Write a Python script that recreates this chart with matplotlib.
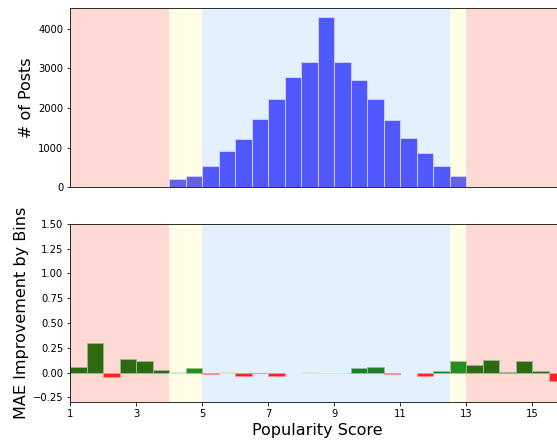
import numpy as np
import matplotlib.pyplot as plt
from matplotlib.colors import to_rgb

# bins of 0.5 on the popularity score
bin_edges = np.arange(1, 16.01, 0.5)
bin_left = bin_edges[:-1]

# posts per bin (bins 1.0 .. 15.5)
post_counts = [0, 0, 0, 0, 0, 0,
               209, 292, 536, 921, 1223, 1718, 2221, 2783, 3145, 4302,
               3145, 2707, 2214, 1693, 1240, 870, 536, 292,
               0, 0, 0, 0, 0, 0]

# MAE improvement per bin
mae_improvement = [0.054, 0.296, -0.044, 0.141, 0.118, 0.024,
                   0.007, 0.044, -0.010, 0.005, -0.034, -0.008, -0.034, 0.0,
                   0.005, -0.006, -0.006, 0.044, 0.057, -0.010, 0.0, -0.030,
                   0.020, 0.114, 0.077, 0.124, 0.010, 0.114, 0.017, -0.088]

# region shading: (start, end, colour)
regions = [(1, 4, '#ffdad5'), (4, 5, '#fffde6'), (5, 12.5, '#e3f0fd'),
           (12.5, 13, '#fffde6'), (13, 16, '#ffdad5')]

dark_green = '#2d6a12'
mid_green = '#1d7f2a'
bright_green = '#2a8c1f'
light_green = '#a8d4a8'
red = '#ff2222'
light_red = '#f2a3ab'
bar_colors = [dark_green, dark_green, red, dark_green, dark_green, dark_green,
              light_green, bright_green, red, light_green, red, red, red, red,
              light_green, light_red, light_red, mid_green, mid_green, red, red, red,
              mid_green, bright_green, dark_green, dark_green, dark_green, dark_green,
              dark_green, red]
# lighter outline: halfway between the fill and white
edge_colors = []
for c, v in zip(bar_colors, mae_improvement):
    r, g, b = to_rgb(c)
    if v == 0:
        edge_colors.append((0, 0, 0, 0))
    else:
        edge_colors.append(((r + 1) / 2, (g + 1) / 2, (b + 1) / 2, 1))

top_colors = ['#5058ff'] * 30
for i in (6, 7, 23):
    top_colors[i] = '#6462e0'

# the original was rendered at 72 dpi
fig = plt.figure(figsize=(557 / 72, 441 / 72), dpi=72)
W, H = 557, 441
ax1 = fig.add_axes([70.3 / W, 1 - 187.3 / H, (565.3 - 70.3) / W, (187.3 - 8.3) / H])
ax2 = fig.add_axes([70.3 / W, 1 - 402.3 / H, (565.3 - 70.3) / W, (402.3 - 223.7) / H])

for ax in (ax1, ax2):
    for a, b, c in regions:
        ax.axvspan(a, b, color=c, lw=0, zorder=0)
    ax.set_xlim(1, 16)

ax1.bar(bin_left, post_counts, width=0.5, align='edge', color=top_colors,
        edgecolor='#c8ccff', linewidth=1, zorder=2)
ax1.set_ylim(0, 4510)
ax1.set_yticks([0, 1000, 2000, 3000, 4000])
ax1.set_xticks([])
ax1.set_ylabel('# of Posts', fontsize=16)

ax2.bar(bin_left, mae_improvement, width=0.5, align='edge', color=bar_colors,
        edgecolor=edge_colors, linewidth=1, zorder=2)
ax2.set_ylim(-0.3, 1.5)
ax2.set_yticks([-0.25, 0, 0.25, 0.5, 0.75, 1.0, 1.25, 1.5])
ax2.set_xticks([1, 3, 5, 7, 9, 11, 13, 15])
ax2.set_ylabel('MAE Improvement by Bins', fontsize=16)
ax2.set_xlabel('Popularity Score', fontsize=16)

fig.savefig('out.png', dpi=72)
